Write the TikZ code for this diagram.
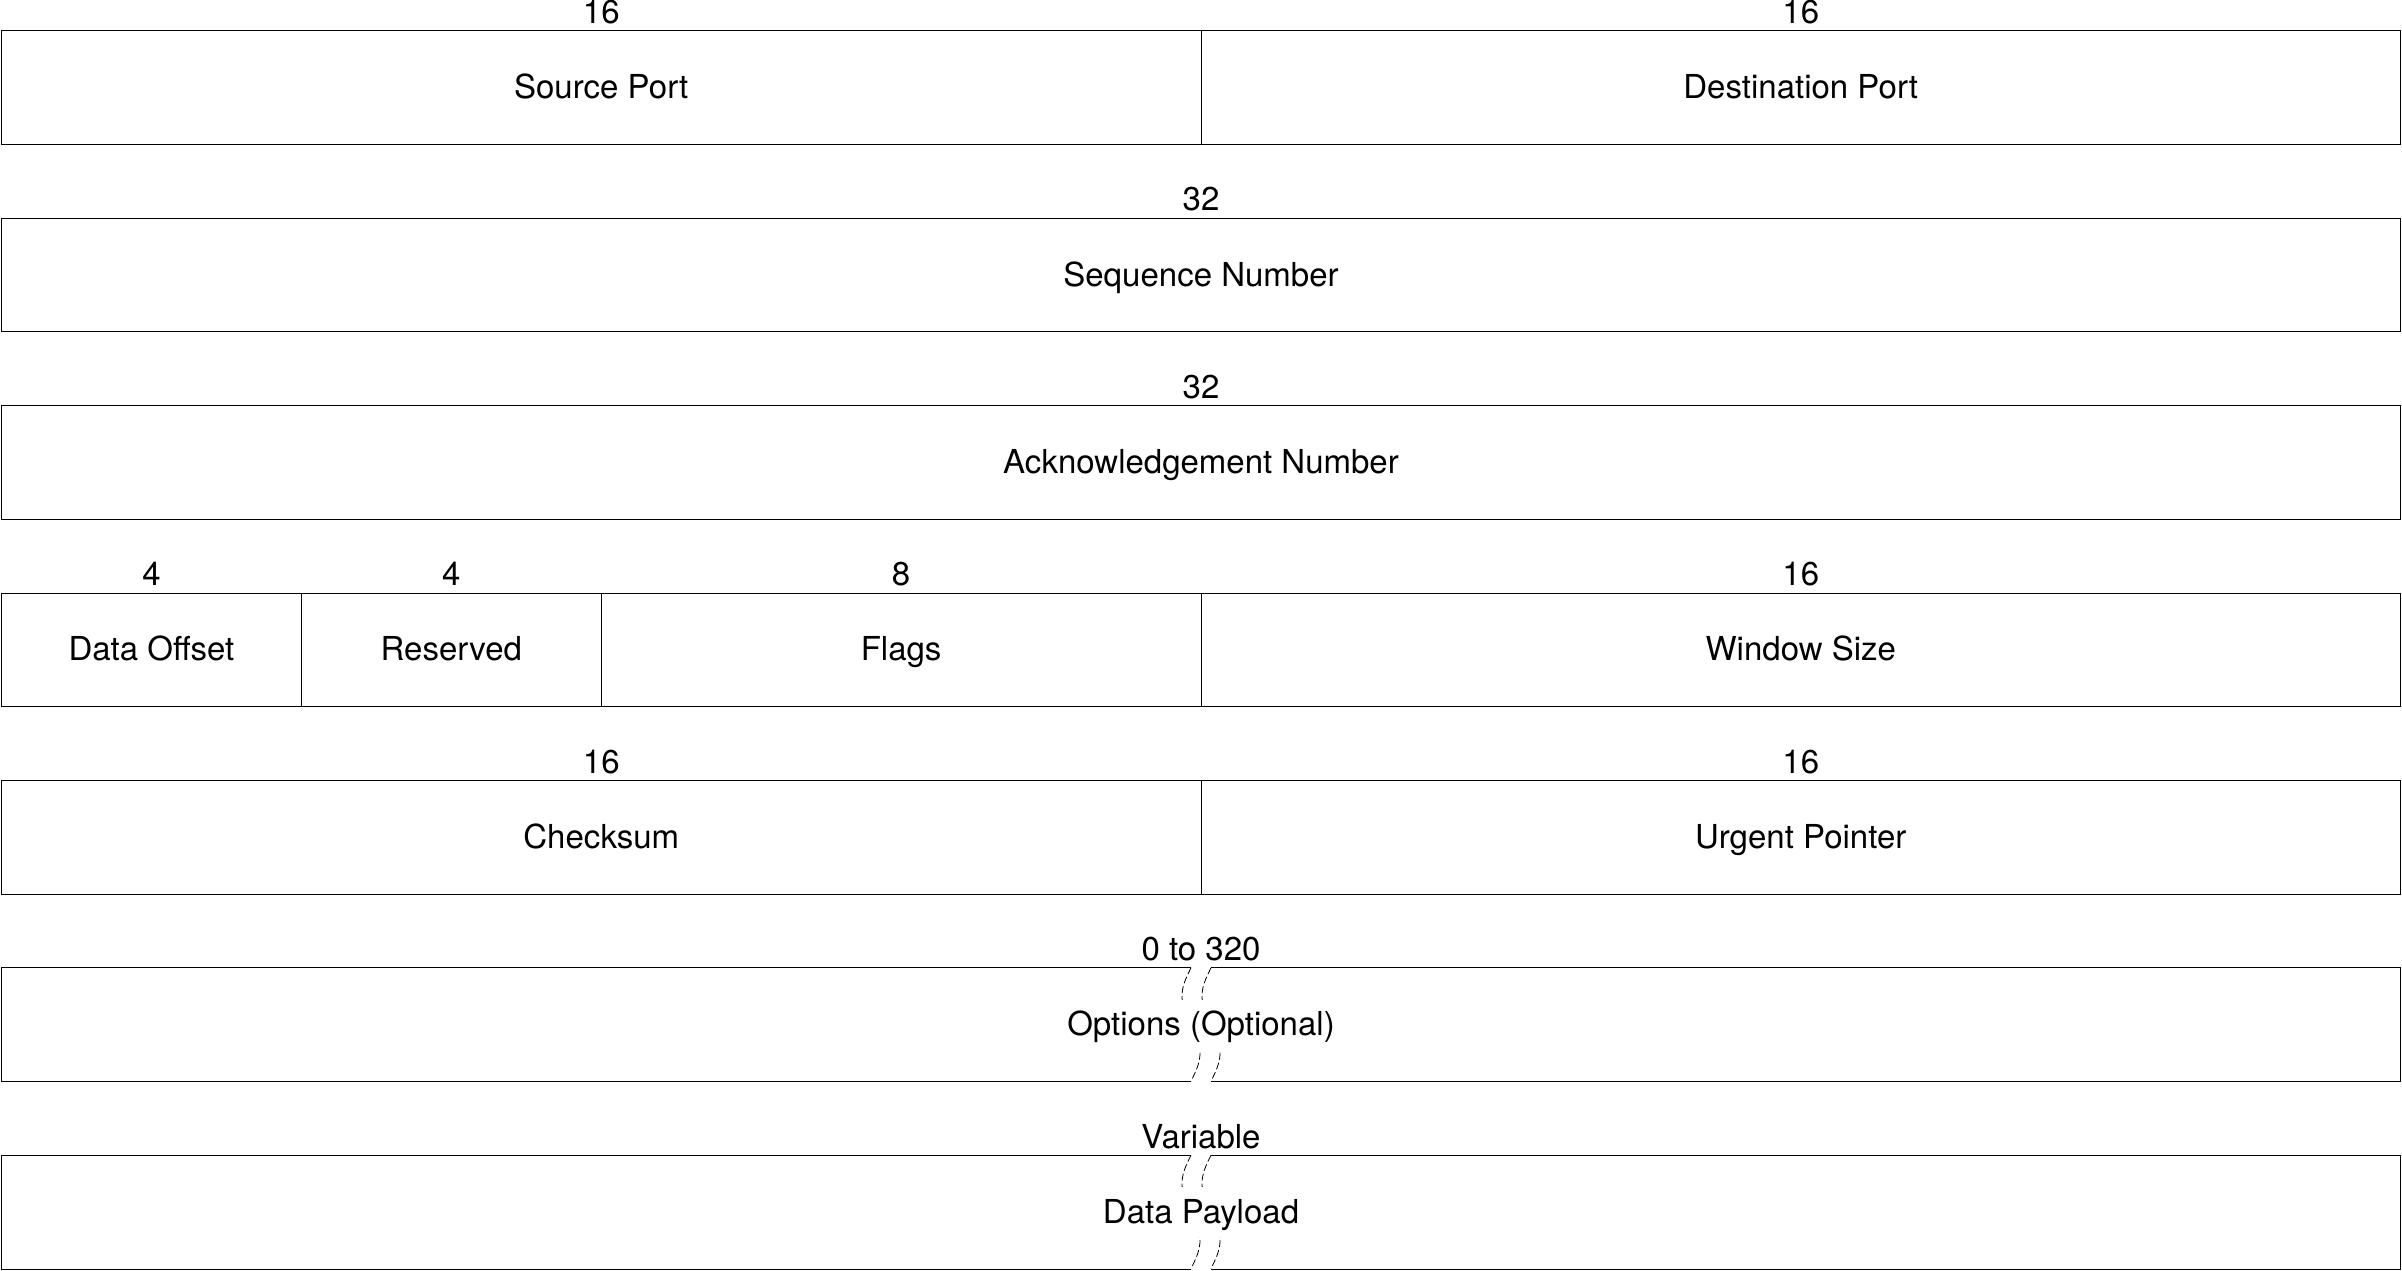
\documentclass[tikz,border=0pt]{standalone}
\usepackage{fontspec}
\setmainfont{TeX Gyre Heros}
\begin{document}
\begin{tikzpicture}[x=1pt,y=-1pt,
  every node/.style={font=\fontsize{33}{40}\selectfont},
  cell/.style={draw=black, line width=1pt, minimum height=113.4pt, inner sep=0pt,
               text height=24pt, text depth=2pt},
  blank/.style={draw=none, minimum height=113.4pt, inner sep=0pt},
  bits/.style={anchor=base, inner sep=0pt},
  rowline/.style={line width=1pt},
  brk/.style={line width=0.8pt, dash pattern=on 7pt off 3pt},
  cover/.style={fill=white, inner sep=12pt, text height=24pt, text depth=2pt}
]
\useasboundingbox (0,0) rectangle (2402,1271);
% row 1
\node[cell, minimum width=1199.5pt] (sp) at (601.25,87.7) {Source Port};
\node[cell, minimum width=1199.5pt] (dp) at (1800.75,87.7) {Destination Port};
\node[bits] (spb) at ([yshift=7pt]sp.north) {16};
\node[bits] (dpb) at ([yshift=7pt]dp.north) {16};
% row 2
\node[cell, minimum width=2399pt] (seq) at (1201,275.1) {Sequence Number};
\node[bits] (seqb) at ([yshift=7pt]seq.north) {32};
% row 3
\node[cell, minimum width=2399pt] (ack) at (1201,462.5) {Acknowledgement Number};
\node[bits] (ackb) at ([yshift=7pt]ack.north) {32};
% row 4
\node[cell, minimum width=299.875pt] (off) at (151.4375,649.9) {Data Offset};
\node[cell, minimum width=299.875pt] (res) at (451.3125,649.9) {Reserved};
\node[cell, minimum width=599.75pt] (flg) at (901.125,649.9) {Flags};
\node[cell, minimum width=1199.5pt] (win) at (1800.75,649.9) {Window Size};
\node[bits] (offb) at ([yshift=7pt]off.north) {4};
\node[bits] (resb) at ([yshift=7pt]res.north) {4};
\node[bits] (flgb) at ([yshift=7pt]flg.north) {8};
\node[bits] (winb) at ([yshift=7pt]win.north) {16};
% row 5
\node[cell, minimum width=1199.5pt] (chk) at (601.25,837.3) {Checksum};
\node[cell, minimum width=1199.5pt] (urg) at (1800.75,837.3) {Urgent Pointer};
\node[bits] (chkb) at ([yshift=7pt]chk.north) {16};
\node[bits] (urgb) at ([yshift=7pt]urg.north) {16};
% row 6 (options, with break)
\node[blank, minimum width=2399pt] (opt) at (1201,1024.7) {};
\node[bits] (optb) at ([yshift=7pt]opt.north) {0 to 320};
\draw[rowline] ([xshift=-10pt]opt.north) -- (opt.north west) -- (opt.south west) -- ([xshift=-10pt]opt.south);
\draw[rowline] ([xshift=10pt]opt.north) -- (opt.north east) -- (opt.south east) -- ([xshift=10pt]opt.south);
\begin{scope}[shift={(opt.north)}]
  \draw[brk] plot[domain=0:1, samples=41, smooth] ({-10-9*sin(360*\x)},{113.4*\x});
  \draw[brk] plot[domain=0:1, samples=41, smooth] ({10-9*sin(360*\x)},{113.4*\x});
\end{scope}
\node[cover] (optt) at (opt.center) {Options (Optional)};
% row 7 (data, with break)
\node[blank, minimum width=2399pt] (dat) at (1201,1212.1) {};
\node[bits] (datb) at ([yshift=7pt]dat.north) {Variable};
\draw[rowline] ([xshift=-10pt]dat.north) -- (dat.north west) -- (dat.south west) -- ([xshift=-10pt]dat.south);
\draw[rowline] ([xshift=10pt]dat.north) -- (dat.north east) -- (dat.south east) -- ([xshift=10pt]dat.south);
\begin{scope}[shift={(dat.north)}]
  \draw[brk] plot[domain=0:1, samples=41, smooth] ({-10-9*sin(360*\x)},{113.4*\x});
  \draw[brk] plot[domain=0:1, samples=41, smooth] ({10-9*sin(360*\x)},{113.4*\x});
\end{scope}
\node[cover] (datt) at (dat.center) {Data Payload};
\end{tikzpicture}
\end{document}
